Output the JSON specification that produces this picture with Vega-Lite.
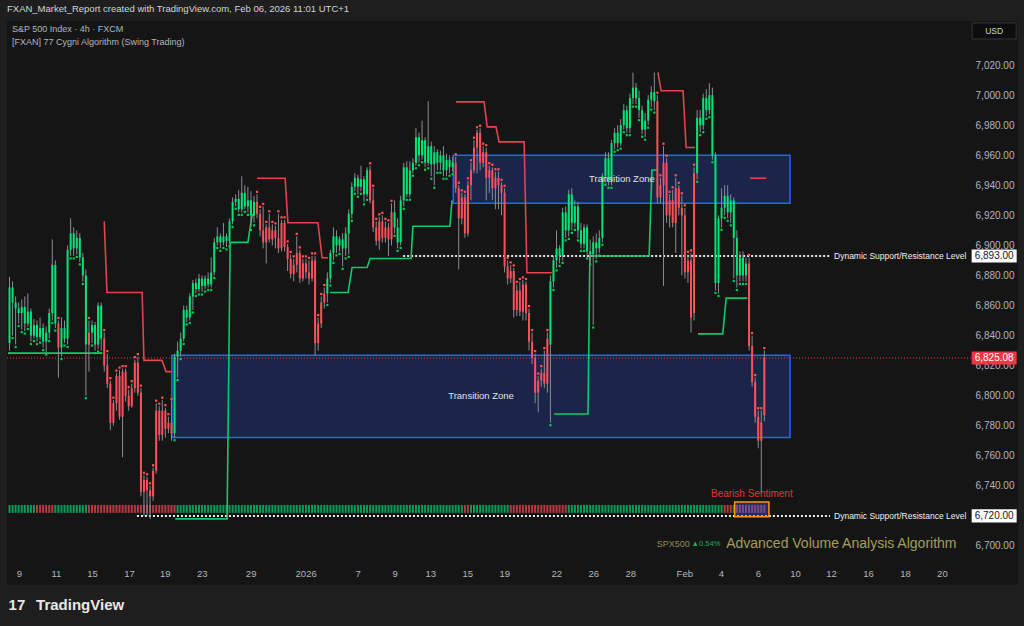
{
"$schema": "https://vega.github.io/schema/vega-lite/v6.json",
"width": 1011, "height": 564,
"autosize": {"type": "none"},
"padding": {"left": 7, "top": 21, "right": 6, "bottom": 41},
"background": "#1e1e1e",
"config": {
  "view": {"fill": "#151515", "stroke": null},
  "font": "Liberation Sans",
  "axis": {"grid": false, "domain": false, "ticks": false, "title": null, "labelColor": "#b2b5be", "labelFont": "Liberation Sans", "labelFontSize": 10, "zindex": 0, "labelOverlap": false, "labelFlush": false, "labelBound": false},
  "axisY": {"format": ",.2f", "offset": -4, "labelAlign": "right", "labelPadding": 0}
},
"title": {"text": "FXAN_Market_Report created with TradingView.com, Feb 06, 2026 11:01 UTC+1", "anchor": "start", "frame": "group", "fontSize": 9.5, "fontWeight": "normal", "color": "#d1d4dc", "offset": 7, "font": "Liberation Sans"},
"datasets": {
  "zones": [{"a": 145.2, "b": 255.4, "lo": 6928, "hi": 6960}, {"a": 53.1, "b": 255.4, "lo": 6772.2, "hi": 6826.9}],
  "levels": [{"k": "last", "p": 6825.08, "a": -0.82, "b": 314.6}, {"k": "dsr", "p": 6893, "a": 128.8, "b": 268.5}, {"k": "dsr", "p": 6720, "a": 41.7, "b": 268.5}],
  "hl": [{"a": 237.3, "b": 248.5, "lo": 6719.5, "hi": 6729.3}],
  "tags": [{"p": 6893, "t": "6,893.00", "k": "w"}, {"p": 6825.08, "t": "6,825.08", "k": "r"}, {"p": 6720, "t": "6,720.00", "k": "w"}],
  "notes": [
    {"k": "zone", "t": "Transition Zone", "i": 200.4, "p": 6944},
    {"k": "zone", "t": "Transition Zone", "i": 154.3, "p": 6800},
    {"k": "dsr", "t": "Dynamic Support/Resistance Level", "i": 269.8, "p": 6893},
    {"k": "dsr", "t": "Dynamic Support/Resistance Level", "i": 269.8, "p": 6720},
    {"k": "bear", "t": "Bearish Sentiment", "i": 242.9, "p": 6734.7},
    {"k": "spx", "t": "SPX500", "i": 211.8, "p": 6701.5},
    {"k": "pct", "t": "▲0.54%", "i": 223.2, "p": 6701.5},
    {"k": "ava", "t": "Advanced Volume Analysis Algorithm", "i": 234.5, "p": 6701.5},
    {"k": "leg", "t": "S&P 500 Index · 4h · FXCM", "i": 0.8, "p": 7044},
    {"k": "leg", "t": "[FXAN] 77 Cygni Algorithm (Swing Trading)", "i": 0.8, "p": 7035.5},
    {"k": "foot", "t": "TradingView", "i": 8.7, "p": 6660.7},
    {"k": "logo", "t": "17", "i": -0.3, "p": 6660.7},
    {"k": "usd", "t": "USD", "i": 322.2, "p": 7042.7}
  ],
  "trail": [
    {"seg": "G1", "k": "g", "i": -0.5, "p": 6828.3}, {"seg": "G1", "k": "g", "i": 30.3, "p": 6828.3},
    {"seg": "R1", "k": "r", "i": 31.0, "p": 6916}, {"seg": "R1", "k": "r", "i": 31.9, "p": 6868.7}, {"seg": "R1", "k": "r", "i": 43.4, "p": 6868.7}, {"seg": "R1", "k": "r", "i": 44.0, "p": 6823.5}, {"seg": "R1", "k": "r", "i": 49.9, "p": 6823.5}, {"seg": "R1", "k": "r", "i": 51.2, "p": 6816}, {"seg": "R1", "k": "r", "i": 53.2, "p": 6816},
    {"seg": "G2", "k": "g", "i": 54.2, "p": 6718}, {"seg": "G2", "k": "g", "i": 71.2, "p": 6718}, {"seg": "G2", "k": "g", "i": 72.2, "p": 6902}, {"seg": "G2", "k": "g", "i": 78.0, "p": 6902}, {"seg": "G2", "k": "g", "i": 79.4, "p": 6920.3}, {"seg": "G2", "k": "g", "i": 80.3, "p": 6920.3},
    {"seg": "R2", "k": "r", "i": 81.0, "p": 6944.7}, {"seg": "R2", "k": "r", "i": 90.2, "p": 6944.7}, {"seg": "R2", "k": "r", "i": 91.1, "p": 6915.1}, {"seg": "R2", "k": "r", "i": 100.9, "p": 6915.1}, {"seg": "R2", "k": "r", "i": 102.3, "p": 6891.8}, {"seg": "R2", "k": "r", "i": 104.2, "p": 6891.8},
    {"seg": "G3", "k": "g", "i": 104.9, "p": 6868.7}, {"seg": "G3", "k": "g", "i": 110.8, "p": 6868.7}, {"seg": "G3", "k": "g", "i": 112.1, "p": 6885.3}, {"seg": "G3", "k": "g", "i": 117.0, "p": 6885.3}, {"seg": "G3", "k": "g", "i": 118.0, "p": 6891.3}, {"seg": "G3", "k": "g", "i": 131.4, "p": 6891.3}, {"seg": "G3", "k": "g", "i": 132.0, "p": 6912.7}, {"seg": "G3", "k": "g", "i": 144.1, "p": 6912.7}, {"seg": "G3", "k": "g", "i": 144.8, "p": 6930},
    {"seg": "R3", "k": "r", "i": 146.1, "p": 6995.5}, {"seg": "R3", "k": "r", "i": 155.3, "p": 6995.5}, {"seg": "R3", "k": "r", "i": 156.3, "p": 6978.9}, {"seg": "R3", "k": "r", "i": 159.2, "p": 6978.9}, {"seg": "R3", "k": "r", "i": 160.2, "p": 6968.9}, {"seg": "R3", "k": "r", "i": 168.4, "p": 6968.9}, {"seg": "R3", "k": "r", "i": 169.3, "p": 6881.8}, {"seg": "R3", "k": "r", "i": 177.5, "p": 6881.8},
    {"seg": "G4", "k": "g", "i": 178.2, "p": 6787.8}, {"seg": "G4", "k": "g", "i": 189.3, "p": 6787.8}, {"seg": "G4", "k": "g", "i": 189.9, "p": 6892.9}, {"seg": "G4", "k": "g", "i": 209.3, "p": 6892.9}, {"seg": "G4", "k": "g", "i": 210.2, "p": 6950.2}, {"seg": "G4", "k": "g", "i": 211.9, "p": 6950.2},
    {"seg": "R4", "k": "r", "i": 212.2, "p": 7015.1}, {"seg": "R4", "k": "r", "i": 213.2, "p": 7002.9}, {"seg": "R4", "k": "r", "i": 220.4, "p": 7002.9}, {"seg": "R4", "k": "r", "i": 221.4, "p": 6965.1}, {"seg": "R4", "k": "r", "i": 224.3, "p": 6965.1},
    {"seg": "G5", "k": "g", "i": 225.3, "p": 6841.1}, {"seg": "G5", "k": "g", "i": 233.4, "p": 6841.1}, {"seg": "G5", "k": "g", "i": 234.5, "p": 6864.9}, {"seg": "G5", "k": "g", "i": 241.4, "p": 6864.9},
    {"seg": "R5", "k": "r", "i": 242.3, "p": 6944.7}, {"seg": "R5", "k": "r", "i": 247.6, "p": 6944.7}
  ],
  "candles": [
{"i":0,"o":6835,"h":6879,"l":6830,"c":6872,"s":"g","v":"g"},
{"i":1,"o":6872,"h":6876,"l":6840,"c":6862,"s":"g","v":"g"},
{"i":2,"o":6862,"h":6866,"l":6834,"c":6858,"s":"g","v":"g"},
{"i":3,"o":6858,"h":6862,"l":6848,"c":6855,"s":"g","v":"g"},
{"i":4,"o":6855,"h":6864,"l":6844,"c":6859,"s":"g","v":"g"},
{"i":5,"o":6859,"h":6866,"l":6843,"c":6848,"s":"g","v":"g"},
{"i":6,"o":6848,"h":6868,"l":6846,"c":6856,"s":"g","v":"g"},
{"i":7,"o":6856,"h":6858,"l":6836,"c":6840,"s":"g","v":"g"},
{"i":8,"o":6840,"h":6851,"l":6838,"c":6847,"s":"g","v":"g"},
{"i":9,"o":6847,"h":6850,"l":6836,"c":6839,"s":"g","v":"r"},
{"i":10,"o":6839,"h":6852,"l":6837,"c":6845,"s":"g","v":"r"},
{"i":11,"o":6845,"h":6848,"l":6832,"c":6836,"s":"g","v":"r"},
{"i":12,"o":6836,"h":6846,"l":6829,"c":6842,"s":"g","v":"r"},
{"i":13,"o":6842,"h":6858,"l":6838,"c":6855,"s":"g","v":"r"},
{"i":14,"o":6855,"h":6904,"l":6850,"c":6887,"s":"g","v":"r"},
{"i":15,"o":6887,"h":6890,"l":6845,"c":6848,"s":"g","v":"g"},
{"i":16,"o":6848,"h":6850,"l":6812,"c":6832,"s":"r","v":"g"},
{"i":17,"o":6832,"h":6852,"l":6826,"c":6845,"s":"g","v":"g"},
{"i":18,"o":6845,"h":6850,"l":6835,"c":6838,"s":"g","v":"g"},
{"i":19,"o":6838,"h":6900,"l":6834,"c":6897,"s":"g","v":"g"},
{"i":20,"o":6897,"h":6918,"l":6893,"c":6908,"s":"g","v":"g"},
{"i":21,"o":6908,"h":6912,"l":6893,"c":6898,"s":"g","v":"g"},
{"i":22,"o":6898,"h":6910,"l":6894,"c":6905,"s":"g","v":"g"},
{"i":23,"o":6905,"h":6908,"l":6889,"c":6892,"s":"g","v":"g"},
{"i":24,"o":6892,"h":6895,"l":6876,"c":6880,"s":"g","v":"g"},
{"i":25,"o":6880,"h":6884,"l":6800,"c":6834,"s":"g","v":"g"},
{"i":26,"o":6834,"h":6850,"l":6816,"c":6842,"s":"r","v":"r"},
{"i":27,"o":6842,"h":6850,"l":6835,"c":6847,"s":"g","v":"r"},
{"i":28,"o":6847,"h":6849,"l":6830,"c":6834,"s":"g","v":"r"},
{"i":29,"o":6834,"h":6862,"l":6831,"c":6860,"s":"g","v":"r"},
{"i":30,"o":6860,"h":6862,"l":6830,"c":6838,"s":"g","v":"r"},
{"i":31,"o":6838,"h":6842,"l":6816,"c":6820,"s":"r","v":"r"},
{"i":32,"o":6820,"h":6828,"l":6805,"c":6808,"s":"r","v":"r"},
{"i":33,"o":6808,"h":6810,"l":6777,"c":6782,"s":"r","v":"r"},
{"i":34,"o":6782,"h":6797,"l":6780,"c":6795,"s":"r","v":"r"},
{"i":35,"o":6795,"h":6815,"l":6790,"c":6813,"s":"r","v":"r"},
{"i":36,"o":6813,"h":6817,"l":6784,"c":6786,"s":"r","v":"r"},
{"i":37,"o":6786,"h":6818,"l":6759,"c":6816,"s":"r","v":"r"},
{"i":38,"o":6816,"h":6818,"l":6796,"c":6800,"s":"r","v":"r"},
{"i":39,"o":6800,"h":6804,"l":6790,"c":6793,"s":"r","v":"r"},
{"i":40,"o":6793,"h":6808,"l":6792,"c":6805,"s":"r","v":"r"},
{"i":41,"o":6805,"h":6824,"l":6802,"c":6822,"s":"r","v":"r"},
{"i":42,"o":6822,"h":6826,"l":6800,"c":6802,"s":"r","v":"r"},
{"i":43,"o":6802,"h":6805,"l":6733,"c":6736,"s":"r","v":"r"},
{"i":44,"o":6736,"h":6747,"l":6720,"c":6744,"s":"r","v":"r"},
{"i":45,"o":6744,"h":6746,"l":6720,"c":6737,"s":"r","v":"r"},
{"i":46,"o":6737,"h":6740,"l":6718,"c":6733,"s":"r","v":"r"},
{"i":47,"o":6733,"h":6752,"l":6730,"c":6750,"s":"r","v":"r"},
{"i":48,"o":6750,"h":6795,"l":6748,"c":6790,"s":"r","v":"r"},
{"i":49,"o":6790,"h":6793,"l":6770,"c":6774,"s":"r","v":"r"},
{"i":50,"o":6774,"h":6797,"l":6770,"c":6790,"s":"r","v":"r"},
{"i":51,"o":6790,"h":6792,"l":6772,"c":6778,"s":"r","v":"r"},
{"i":52,"o":6778,"h":6786,"l":6775,"c":6782,"s":"r","v":"r"},
{"i":53,"o":6782,"h":6796,"l":6770,"c":6775,"s":"r","v":"r"},
{"i":54,"o":6775,"h":6828,"l":6772,"c":6826,"s":"g","v":"r"},
{"i":55,"o":6826,"h":6836,"l":6812,"c":6830,"s":"g","v":"g"},
{"i":56,"o":6830,"h":6842,"l":6826,"c":6838,"s":"g","v":"g"},
{"i":57,"o":6838,"h":6860,"l":6836,"c":6857,"s":"g","v":"g"},
{"i":58,"o":6857,"h":6860,"l":6849,"c":6852,"s":"g","v":"g"},
{"i":59,"o":6852,"h":6868,"l":6850,"c":6866,"s":"g","v":"g"},
{"i":60,"o":6866,"h":6877,"l":6857,"c":6875,"s":"g","v":"g"},
{"i":61,"o":6875,"h":6878,"l":6868,"c":6871,"s":"g","v":"g"},
{"i":62,"o":6871,"h":6881,"l":6869,"c":6878,"s":"g","v":"g"},
{"i":63,"o":6878,"h":6880,"l":6869,"c":6873,"s":"g","v":"g"},
{"i":64,"o":6873,"h":6880,"l":6871,"c":6878,"s":"g","v":"g"},
{"i":65,"o":6878,"h":6882,"l":6872,"c":6874,"s":"g","v":"g"},
{"i":66,"o":6874,"h":6892,"l":6872,"c":6882,"s":"g","v":"g"},
{"i":67,"o":6882,"h":6905,"l":6880,"c":6902,"s":"g","v":"g"},
{"i":68,"o":6902,"h":6912,"l":6900,"c":6906,"s":"g","v":"g"},
{"i":69,"o":6906,"h":6908,"l":6898,"c":6902,"s":"g","v":"g"},
{"i":70,"o":6902,"h":6915,"l":6900,"c":6906,"s":"g","v":"g"},
{"i":71,"o":6906,"h":6908,"l":6899,"c":6903,"s":"g","v":"g"},
{"i":72,"o":6903,"h":6918,"l":6901,"c":6916,"s":"g","v":"g"},
{"i":73,"o":6916,"h":6932,"l":6914,"c":6929,"s":"g","v":"g"},
{"i":74,"o":6929,"h":6934,"l":6926,"c":6931,"s":"g","v":"g"},
{"i":75,"o":6931,"h":6937,"l":6922,"c":6924,"s":"g","v":"g"},
{"i":76,"o":6924,"h":6946,"l":6922,"c":6935,"s":"g","v":"g"},
{"i":77,"o":6935,"h":6940,"l":6924,"c":6926,"s":"g","v":"g"},
{"i":78,"o":6926,"h":6939,"l":6922,"c":6930,"s":"g","v":"g"},
{"i":79,"o":6930,"h":6936,"l":6912,"c":6920,"s":"g","v":"g"},
{"i":80,"o":6920,"h":6933,"l":6915,"c":6929,"s":"g","v":"g"},
{"i":81,"o":6929,"h":6934,"l":6918,"c":6921,"s":"r","v":"g"},
{"i":82,"o":6921,"h":6924,"l":6906,"c":6910,"s":"r","v":"g"},
{"i":83,"o":6910,"h":6926,"l":6898,"c":6902,"s":"r","v":"g"},
{"i":84,"o":6902,"h":6914,"l":6888,"c":6912,"s":"r","v":"g"},
{"i":85,"o":6912,"h":6921,"l":6902,"c":6904,"s":"r","v":"g"},
{"i":86,"o":6904,"h":6914,"l":6900,"c":6910,"s":"r","v":"g"},
{"i":87,"o":6910,"h":6913,"l":6898,"c":6905,"s":"r","v":"g"},
{"i":88,"o":6905,"h":6921,"l":6895,"c":6898,"s":"r","v":"g"},
{"i":89,"o":6898,"h":6917,"l":6896,"c":6915,"s":"r","v":"g"},
{"i":90,"o":6915,"h":6917,"l":6896,"c":6899,"s":"r","v":"g"},
{"i":91,"o":6899,"h":6901,"l":6883,"c":6891,"s":"r","v":"g"},
{"i":92,"o":6891,"h":6894,"l":6878,"c":6881,"s":"r","v":"g"},
{"i":93,"o":6881,"h":6891,"l":6876,"c":6887,"s":"r","v":"g"},
{"i":94,"o":6887,"h":6906,"l":6882,"c":6895,"s":"r","v":"g"},
{"i":95,"o":6895,"h":6897,"l":6875,"c":6878,"s":"r","v":"g"},
{"i":96,"o":6878,"h":6891,"l":6876,"c":6888,"s":"r","v":"g"},
{"i":97,"o":6888,"h":6891,"l":6878,"c":6882,"s":"r","v":"g"},
{"i":98,"o":6882,"h":6890,"l":6874,"c":6878,"s":"r","v":"g"},
{"i":99,"o":6878,"h":6893,"l":6876,"c":6890,"s":"r","v":"g"},
{"i":100,"o":6890,"h":6893,"l":6827,"c":6835,"s":"r","v":"g"},
{"i":101,"o":6835,"h":6852,"l":6830,"c":6848,"s":"r","v":"g"},
{"i":102,"o":6848,"h":6866,"l":6845,"c":6862,"s":"r","v":"g"},
{"i":103,"o":6862,"h":6872,"l":6858,"c":6868,"s":"r","v":"g"},
{"i":104,"o":6868,"h":6882,"l":6862,"c":6878,"s":"g","v":"g"},
{"i":105,"o":6878,"h":6897,"l":6875,"c":6895,"s":"g","v":"g"},
{"i":106,"o":6895,"h":6912,"l":6890,"c":6906,"s":"g","v":"g"},
{"i":107,"o":6906,"h":6910,"l":6895,"c":6900,"s":"g","v":"g"},
{"i":108,"o":6900,"h":6906,"l":6896,"c":6904,"s":"g","v":"g"},
{"i":109,"o":6904,"h":6908,"l":6886,"c":6898,"s":"g","v":"g"},
{"i":110,"o":6898,"h":6912,"l":6893,"c":6908,"s":"g","v":"g"},
{"i":111,"o":6908,"h":6924,"l":6894,"c":6921,"s":"g","v":"g"},
{"i":112,"o":6921,"h":6942,"l":6918,"c":6939,"s":"g","v":"g"},
{"i":113,"o":6939,"h":6948,"l":6936,"c":6945,"s":"g","v":"g"},
{"i":114,"o":6945,"h":6947,"l":6934,"c":6939,"s":"g","v":"g"},
{"i":115,"o":6939,"h":6953,"l":6936,"c":6944,"s":"g","v":"g"},
{"i":116,"o":6944,"h":6946,"l":6929,"c":6934,"s":"g","v":"g"},
{"i":117,"o":6934,"h":6952,"l":6932,"c":6950,"s":"g","v":"g"},
{"i":118,"o":6950,"h":6953,"l":6928,"c":6930,"s":"r","v":"g"},
{"i":119,"o":6930,"h":6938,"l":6909,"c":6912,"s":"r","v":"g"},
{"i":120,"o":6912,"h":6916,"l":6900,"c":6903,"s":"r","v":"g"},
{"i":121,"o":6903,"h":6919,"l":6897,"c":6916,"s":"r","v":"g"},
{"i":122,"o":6916,"h":6920,"l":6902,"c":6905,"s":"r","v":"g"},
{"i":123,"o":6905,"h":6916,"l":6902,"c":6912,"s":"r","v":"g"},
{"i":124,"o":6912,"h":6915,"l":6893,"c":6904,"s":"r","v":"g"},
{"i":125,"o":6904,"h":6928,"l":6900,"c":6922,"s":"r","v":"g"},
{"i":126,"o":6922,"h":6930,"l":6908,"c":6912,"s":"g","v":"g"},
{"i":127,"o":6912,"h":6918,"l":6898,"c":6902,"s":"g","v":"g"},
{"i":128,"o":6902,"h":6933,"l":6900,"c":6930,"s":"g","v":"g"},
{"i":129,"o":6930,"h":6955,"l":6926,"c":6952,"s":"g","v":"g"},
{"i":130,"o":6952,"h":6956,"l":6932,"c":6934,"s":"g","v":"g"},
{"i":131,"o":6934,"h":6956,"l":6932,"c":6950,"s":"g","v":"g"},
{"i":132,"o":6950,"h":6958,"l":6948,"c":6955,"s":"g","v":"g"},
{"i":133,"o":6955,"h":6978,"l":6953,"c":6972,"s":"g","v":"g"},
{"i":134,"o":6972,"h":6975,"l":6955,"c":6960,"s":"g","v":"g"},
{"i":135,"o":6960,"h":6983,"l":6957,"c":6970,"s":"g","v":"g"},
{"i":136,"o":6970,"h":6972,"l":6952,"c":6955,"s":"g","v":"g"},
{"i":137,"o":6955,"h":6996,"l":6953,"c":6966,"s":"g","v":"g"},
{"i":138,"o":6966,"h":6969,"l":6946,"c":6954,"s":"g","v":"g"},
{"i":139,"o":6954,"h":6966,"l":6940,"c":6962,"s":"g","v":"g"},
{"i":140,"o":6962,"h":6964,"l":6950,"c":6955,"s":"g","v":"g"},
{"i":141,"o":6955,"h":6963,"l":6950,"c":6960,"s":"g","v":"g"},
{"i":142,"o":6960,"h":6966,"l":6946,"c":6950,"s":"g","v":"g"},
{"i":143,"o":6950,"h":6961,"l":6946,"c":6957,"s":"g","v":"g"},
{"i":144,"o":6957,"h":6960,"l":6948,"c":6952,"s":"g","v":"g"},
{"i":145,"o":6952,"h":6959,"l":6949,"c":6955,"s":"g","v":"g"},
{"i":146,"o":6955,"h":6959,"l":6935,"c":6938,"s":"r","v":"g"},
{"i":147,"o":6938,"h":6940,"l":6884,"c":6918,"s":"r","v":"g"},
{"i":148,"o":6918,"h":6935,"l":6914,"c":6932,"s":"r","v":"g"},
{"i":149,"o":6932,"h":6934,"l":6905,"c":6908,"s":"r","v":"r"},
{"i":150,"o":6908,"h":6943,"l":6906,"c":6940,"s":"r","v":"r"},
{"i":151,"o":6940,"h":6955,"l":6930,"c":6950,"s":"r","v":"g"},
{"i":152,"o":6950,"h":6970,"l":6948,"c":6965,"s":"r","v":"g"},
{"i":153,"o":6965,"h":6977,"l":6948,"c":6975,"s":"r","v":"g"},
{"i":154,"o":6975,"h":6978,"l":6950,"c":6955,"s":"r","v":"g"},
{"i":155,"o":6955,"h":6966,"l":6952,"c":6962,"s":"r","v":"g"},
{"i":156,"o":6962,"h":6965,"l":6930,"c":6945,"s":"r","v":"g"},
{"i":157,"o":6945,"h":6953,"l":6935,"c":6950,"s":"r","v":"g"},
{"i":158,"o":6950,"h":6952,"l":6930,"c":6938,"s":"r","v":"g"},
{"i":159,"o":6938,"h":6949,"l":6924,"c":6945,"s":"r","v":"g"},
{"i":160,"o":6945,"h":6949,"l":6924,"c":6940,"s":"r","v":"g"},
{"i":161,"o":6940,"h":6942,"l":6920,"c":6935,"s":"r","v":"g"},
{"i":162,"o":6935,"h":6938,"l":6882,"c":6886,"s":"r","v":"g"},
{"i":163,"o":6886,"h":6890,"l":6874,"c":6878,"s":"r","v":"g"},
{"i":164,"o":6878,"h":6887,"l":6875,"c":6883,"s":"r","v":"r"},
{"i":165,"o":6883,"h":6885,"l":6852,"c":6857,"s":"r","v":"r"},
{"i":166,"o":6857,"h":6874,"l":6853,"c":6870,"s":"r","v":"r"},
{"i":167,"o":6870,"h":6876,"l":6853,"c":6856,"s":"r","v":"r"},
{"i":168,"o":6856,"h":6877,"l":6850,"c":6874,"s":"r","v":"r"},
{"i":169,"o":6874,"h":6876,"l":6850,"c":6855,"s":"r","v":"r"},
{"i":170,"o":6855,"h":6858,"l":6830,"c":6836,"s":"r","v":"r"},
{"i":171,"o":6836,"h":6842,"l":6821,"c":6825,"s":"r","v":"r"},
{"i":172,"o":6825,"h":6828,"l":6795,"c":6802,"s":"r","v":"r"},
{"i":173,"o":6802,"h":6813,"l":6789,"c":6810,"s":"r","v":"r"},
{"i":174,"o":6810,"h":6818,"l":6806,"c":6815,"s":"r","v":"r"},
{"i":175,"o":6815,"h":6830,"l":6805,"c":6808,"s":"r","v":"r"},
{"i":176,"o":6808,"h":6842,"l":6802,"c":6838,"s":"r","v":"r"},
{"i":177,"o":6834,"h":6880,"l":6782,"c":6876,"s":"g","v":"r"},
{"i":178,"o":6876,"h":6893,"l":6872,"c":6890,"s":"g","v":"r"},
{"i":179,"o":6890,"h":6910,"l":6885,"c":6898,"s":"g","v":"r"},
{"i":180,"o":6898,"h":6900,"l":6888,"c":6893,"s":"g","v":"r"},
{"i":181,"o":6893,"h":6925,"l":6890,"c":6922,"s":"g","v":"r"},
{"i":182,"o":6922,"h":6926,"l":6905,"c":6910,"s":"g","v":"r"},
{"i":183,"o":6910,"h":6937,"l":6906,"c":6934,"s":"g","v":"g"},
{"i":184,"o":6934,"h":6938,"l":6910,"c":6915,"s":"g","v":"g"},
{"i":185,"o":6915,"h":6930,"l":6912,"c":6926,"s":"g","v":"g"},
{"i":186,"o":6926,"h":6929,"l":6905,"c":6910,"s":"g","v":"g"},
{"i":187,"o":6910,"h":6915,"l":6898,"c":6901,"s":"g","v":"g"},
{"i":188,"o":6901,"h":6914,"l":6898,"c":6912,"s":"g","v":"g"},
{"i":189,"o":6912,"h":6914,"l":6893,"c":6896,"s":"g","v":"g"},
{"i":190,"o":6896,"h":6904,"l":6889,"c":6894,"s":"g","v":"g"},
{"i":191,"o":6894,"h":6906,"l":6847,"c":6902,"s":"g","v":"g"},
{"i":192,"o":6902,"h":6908,"l":6891,"c":6898,"s":"g","v":"g"},
{"i":193,"o":6898,"h":6910,"l":6895,"c":6905,"s":"g","v":"g"},
{"i":194,"o":6905,"h":6948,"l":6902,"c":6946,"s":"g","v":"g"},
{"i":195,"o":6946,"h":6962,"l":6942,"c":6958,"s":"g","v":"g"},
{"i":196,"o":6958,"h":6962,"l":6940,"c":6943,"s":"g","v":"g"},
{"i":197,"o":6943,"h":6970,"l":6940,"c":6968,"s":"g","v":"g"},
{"i":198,"o":6968,"h":6978,"l":6964,"c":6975,"s":"g","v":"g"},
{"i":199,"o":6975,"h":6980,"l":6965,"c":6968,"s":"g","v":"g"},
{"i":200,"o":6968,"h":6984,"l":6966,"c":6980,"s":"g","v":"g"},
{"i":201,"o":6980,"h":6994,"l":6977,"c":6990,"s":"g","v":"g"},
{"i":202,"o":6990,"h":6993,"l":6975,"c":6978,"s":"g","v":"g"},
{"i":203,"o":6978,"h":7001,"l":6975,"c":6998,"s":"g","v":"g"},
{"i":204,"o":6998,"h":7015,"l":6994,"c":7005,"s":"g","v":"g"},
{"i":205,"o":7005,"h":7008,"l":6994,"c":6998,"s":"g","v":"g"},
{"i":206,"o":6998,"h":7003,"l":6985,"c":6990,"s":"g","v":"g"},
{"i":207,"o":6990,"h":6993,"l":6974,"c":6977,"s":"g","v":"g"},
{"i":208,"o":6977,"h":6988,"l":6972,"c":6983,"s":"g","v":"g"},
{"i":209,"o":6983,"h":7000,"l":6980,"c":6997,"s":"g","v":"g"},
{"i":210,"o":6997,"h":7006,"l":6992,"c":7002,"s":"g","v":"g"},
{"i":211,"o":7002,"h":7015,"l":6990,"c":6996,"s":"g","v":"g"},
{"i":212,"o":6996,"h":7000,"l":6928,"c":6932,"s":"r","v":"g"},
{"i":213,"o":6932,"h":6945,"l":6928,"c":6940,"s":"r","v":"g"},
{"i":214,"o":6940,"h":6966,"l":6873,"c":6955,"s":"r","v":"g"},
{"i":215,"o":6955,"h":6958,"l":6915,"c":6920,"s":"r","v":"g"},
{"i":216,"o":6920,"h":6934,"l":6912,"c":6930,"s":"r","v":"g"},
{"i":217,"o":6930,"h":6937,"l":6912,"c":6915,"s":"r","v":"g"},
{"i":218,"o":6915,"h":6945,"l":6895,"c":6938,"s":"r","v":"g"},
{"i":219,"o":6938,"h":6940,"l":6920,"c":6925,"s":"r","v":"g"},
{"i":220,"o":6925,"h":6933,"l":6880,"c":6920,"s":"r","v":"g"},
{"i":221,"o":6920,"h":6925,"l":6878,"c":6882,"s":"r","v":"g"},
{"i":222,"o":6882,"h":6894,"l":6875,"c":6890,"s":"r","v":"g"},
{"i":223,"o":6890,"h":6895,"l":6842,"c":6852,"s":"r","v":"g"},
{"i":224,"o":6855,"h":6952,"l":6850,"c":6948,"s":"r","v":"g"},
{"i":225,"o":6948,"h":6990,"l":6944,"c":6985,"s":"g","v":"g"},
{"i":226,"o":6985,"h":6990,"l":6975,"c":6980,"s":"g","v":"g"},
{"i":227,"o":6980,"h":7001,"l":6977,"c":6998,"s":"g","v":"g"},
{"i":228,"o":6998,"h":7004,"l":6986,"c":6990,"s":"g","v":"g"},
{"i":229,"o":6990,"h":7008,"l":6987,"c":7000,"s":"g","v":"g"},
{"i":230,"o":7000,"h":7005,"l":6957,"c":6960,"s":"g","v":"g"},
{"i":231,"o":6960,"h":6962,"l":6870,"c":6875,"s":"g","v":"g"},
{"i":232,"o":6875,"h":6920,"l":6868,"c":6918,"s":"g","v":"g"},
{"i":233,"o":6918,"h":6938,"l":6912,"c":6925,"s":"g","v":"g"},
{"i":234,"o":6925,"h":6940,"l":6920,"c":6933,"s":"g","v":"r"},
{"i":235,"o":6933,"h":6940,"l":6918,"c":6922,"s":"g","v":"r"},
{"i":236,"o":6922,"h":6934,"l":6915,"c":6930,"s":"g","v":"r"},
{"i":237,"o":6930,"h":6932,"l":6878,"c":6905,"s":"g","v":"g"},
{"i":238,"o":6905,"h":6910,"l":6872,"c":6880,"s":"g","v":"r"},
{"i":239,"o":6880,"h":6896,"l":6876,"c":6892,"s":"g","v":"r"},
{"i":240,"o":6892,"h":6896,"l":6876,"c":6880,"s":"g","v":"r"},
{"i":241,"o":6880,"h":6892,"l":6876,"c":6888,"s":"g","v":"r"},
{"i":242,"o":6888,"h":6892,"l":6830,"c":6833,"s":"r","v":"r"},
{"i":243,"o":6833,"h":6840,"l":6806,"c":6809,"s":"r","v":"r"},
{"i":244,"o":6809,"h":6812,"l":6782,"c":6786,"s":"r","v":"r"},
{"i":245,"o":6786,"h":6790,"l":6765,"c":6770,"s":"r","v":"r"},
{"i":246,"o":6770,"h":6790,"l":6735,"c":6782,"s":"r","v":"r"},
{"i":247,"o":6787,"h":6830,"l":6783,"c":6825.08,"s":"r","v":"r"}
  ]
},
"layer": [
  {"data": {"name": "zones"}, "mark": {"type": "rect", "fill": "#1b2549", "stroke": "#2962ff", "strokeWidth": 1.5},
   "encoding": {
     "x": {"field": "a", "type": "quantitative", "scale": {"domain": [-0.82, 330], "nice": false, "zero": false},
       "axis": {"values": [3.1,15.2,27,39.1,50.8,62.9,78.9,96.9,113.9,126,137.7,149.8,161.9,178.9,191,203.1,220.8,232.8,244.9,257,268.8,280.9,293,305.1],
         "labelExpr": "['9','11','15','17','19','23','29','2026','7','9','13','15','19','22','26','28','Feb','4','6','10','12','16','18','20'][indexof([3.1,15.2,27,39.1,50.8,62.9,78.9,96.9,113.9,126,137.7,149.8,161.9,178.9,191,203.1,220.8,232.8,244.9,257,268.8,280.9,293,305.1], datum.value)]",
         "offset": -20, "labelPadding": 3, "labelOverlap": false, "labelFlush": false, "labelFontSize": 9.5}},
     "x2": {"field": "b"},
     "y": {"field": "lo", "type": "quantitative", "scale": {"domain": [6674, 7049.33], "nice": false, "zero": false},
       "axis": {"orient": "right", "values": [6700,6720,6740,6760,6780,6800,6820,6840,6860,6880,6900,6920,6940,6960,6980,7000,7020]}},
     "y2": {"field": "hi"}}},
  {"data": {"name": "levels"}, "transform": [{"filter": "datum.k == 'last'"}],
   "mark": {"type": "rule", "color": "#f23645", "strokeWidth": 1, "strokeDash": [1, 2]},
   "encoding": {"x": {"field": "a", "type": "quantitative", "scale": {"domain": [-0.82, 330], "nice": false, "zero": false}}, "x2": {"field": "b"},
     "y": {"field": "p", "type": "quantitative", "scale": {"domain": [6674, 7049.33], "nice": false, "zero": false}, "axis": {"orient": "right", "values": [6700,6720,6740,6760,6780,6800,6820,6840,6860,6880,6900,6920,6940,6960,6980,7000,7020]}}}},
  {"data": {"name": "levels"}, "transform": [{"filter": "datum.k == 'dsr'"}],
   "mark": {"type": "rule", "color": "#e8e8e8", "strokeWidth": 2, "strokeDash": [2, 2]},
   "encoding": {"x": {"field": "a", "type": "quantitative", "scale": {"domain": [-0.82, 330], "nice": false, "zero": false}}, "x2": {"field": "b"},
     "y": {"field": "p", "type": "quantitative", "scale": {"domain": [6674, 7049.33], "nice": false, "zero": false}, "axis": {"orient": "right", "values": [6700,6720,6740,6760,6780,6800,6820,6840,6860,6880,6900,6920,6940,6960,6980,7000,7020]}}}},
  {"data": {"name": "candles"}, "mark": {"type": "rule", "strokeWidth": 2},
   "encoding": {"x": {"field": "i", "type": "quantitative", "scale": {"domain": [-0.82, 330], "nice": false, "zero": false}},
     "y": {"datum": 6722, "type": "quantitative", "scale": {"domain": [6674, 7049.33], "nice": false, "zero": false}, "axis": {"orient": "right", "values": [6700,6720,6740,6760,6780,6800,6820,6840,6860,6880,6900,6920,6940,6960,6980,7000,7020]}},
     "y2": {"datum": 6727.3},
     "color": {"condition": {"test": "datum.v == 'g'", "value": "#0c9c58"}, "value": "#b83a42"}}},
  {"data": {"name": "hl"}, "mark": {"type": "rect", "fill": "#2962ff", "fillOpacity": 0.35, "stroke": "#ff9800", "strokeWidth": 1.5},
   "encoding": {"x": {"field": "a", "type": "quantitative", "scale": {"domain": [-0.82, 330], "nice": false, "zero": false}}, "x2": {"field": "b"},
     "y": {"field": "lo", "type": "quantitative", "scale": {"domain": [6674, 7049.33], "nice": false, "zero": false}, "axis": {"orient": "right", "values": [6700,6720,6740,6760,6780,6800,6820,6840,6860,6880,6900,6920,6940,6960,6980,7000,7020]}}, "y2": {"field": "hi"}}},
  {"data": {"name": "trail"}, "mark": {"type": "line", "strokeWidth": 1.6},
   "encoding": {"x": {"field": "i", "type": "quantitative", "scale": {"domain": [-0.82, 330], "nice": false, "zero": false}},
     "y": {"field": "p", "type": "quantitative", "scale": {"domain": [6674, 7049.33], "nice": false, "zero": false}, "axis": {"orient": "right", "values": [6700,6720,6740,6760,6780,6800,6820,6840,6860,6880,6900,6920,6940,6960,6980,7000,7020]}},
     "detail": {"field": "seg"},
     "color": {"condition": {"test": "datum.k == 'g'", "value": "#14c76a"}, "value": "#e0454d"}}},
  {"data": {"name": "candles"}, "mark": {"type": "rule", "color": "#8a8c94", "strokeWidth": 1},
   "encoding": {"x": {"field": "i", "type": "quantitative", "scale": {"domain": [-0.82, 330], "nice": false, "zero": false}},
     "y": {"field": "l", "type": "quantitative", "scale": {"domain": [6674, 7049.33], "nice": false, "zero": false}, "axis": {"orient": "right", "values": [6700,6720,6740,6760,6780,6800,6820,6840,6860,6880,6900,6920,6940,6960,6980,7000,7020]}}, "y2": {"field": "h"}}},
  {"data": {"name": "candles"}, "mark": {"type": "rule", "strokeWidth": 2},
   "encoding": {"x": {"field": "i", "type": "quantitative", "scale": {"domain": [-0.82, 330], "nice": false, "zero": false}},
     "y": {"field": "o", "type": "quantitative", "scale": {"domain": [6674, 7049.33], "nice": false, "zero": false}, "axis": {"orient": "right", "values": [6700,6720,6740,6760,6780,6800,6820,6840,6860,6880,6900,6920,6940,6960,6980,7000,7020]}}, "y2": {"field": "c"},
     "color": {"condition": {"test": "datum.s == 'g'", "value": "#00e676"}, "value": "#ff4f5a"}}},
  {"data": {"name": "candles"}, "transform": [{"filter": "datum.s == 'r'"}],
   "mark": {"type": "square", "size": 5, "filled": true, "color": "#ff5252", "opacity": 1, "yOffset": -2.5},
   "encoding": {"x": {"field": "i", "type": "quantitative", "scale": {"domain": [-0.82, 330], "nice": false, "zero": false}},
     "y": {"field": "h", "type": "quantitative", "scale": {"domain": [6674, 7049.33], "nice": false, "zero": false}, "axis": {"orient": "right", "values": [6700,6720,6740,6760,6780,6800,6820,6840,6860,6880,6900,6920,6940,6960,6980,7000,7020]}}}},
  {"data": {"name": "candles"}, "transform": [{"filter": "datum.s == 'g'"}],
   "mark": {"type": "square", "size": 5, "filled": true, "color": "#00c853", "opacity": 1, "yOffset": 2.5},
   "encoding": {"x": {"field": "i", "type": "quantitative", "scale": {"domain": [-0.82, 330], "nice": false, "zero": false}},
     "y": {"field": "l", "type": "quantitative", "scale": {"domain": [6674, 7049.33], "nice": false, "zero": false}, "axis": {"orient": "right", "values": [6700,6720,6740,6760,6780,6800,6820,6840,6860,6880,6900,6920,6940,6960,6980,7000,7020]}}}},
  {"data": {"name": "notes"}, "transform": [{"filter": "datum.k == 'zone'"}],
   "mark": {"type": "text", "fontSize": 9.5, "color": "#e0e3eb", "align": "center", "baseline": "middle"},
   "encoding": {"x": {"field": "i", "type": "quantitative", "scale": {"domain": [-0.82, 330], "nice": false, "zero": false}},
     "y": {"field": "p", "type": "quantitative", "scale": {"domain": [6674, 7049.33], "nice": false, "zero": false}, "axis": {"orient": "right", "values": [6700,6720,6740,6760,6780,6800,6820,6840,6860,6880,6900,6920,6940,6960,6980,7000,7020]}}, "text": {"field": "t"}}},
  {"data": {"name": "notes"}, "transform": [{"filter": "datum.k == 'dsr'"}],
   "mark": {"type": "text", "fontSize": 8.5, "color": "#f0f0f0", "align": "left", "baseline": "middle"},
   "encoding": {"x": {"field": "i", "type": "quantitative", "scale": {"domain": [-0.82, 330], "nice": false, "zero": false}},
     "y": {"field": "p", "type": "quantitative", "scale": {"domain": [6674, 7049.33], "nice": false, "zero": false}, "axis": {"orient": "right", "values": [6700,6720,6740,6760,6780,6800,6820,6840,6860,6880,6900,6920,6940,6960,6980,7000,7020]}}, "text": {"field": "t"}}},
  {"data": {"name": "notes"}, "transform": [{"filter": "datum.k == 'bear'"}],
   "mark": {"type": "text", "fontSize": 10, "color": "#e5313f", "align": "center", "baseline": "middle"},
   "encoding": {"x": {"field": "i", "type": "quantitative", "scale": {"domain": [-0.82, 330], "nice": false, "zero": false}},
     "y": {"field": "p", "type": "quantitative", "scale": {"domain": [6674, 7049.33], "nice": false, "zero": false}, "axis": {"orient": "right", "values": [6700,6720,6740,6760,6780,6800,6820,6840,6860,6880,6900,6920,6940,6960,6980,7000,7020]}}, "text": {"field": "t"}}},
  {"data": {"name": "notes"}, "transform": [{"filter": "datum.k == 'spx'"}],
   "mark": {"type": "text", "fontSize": 9, "color": "#8e8a4e", "align": "left", "baseline": "middle"},
   "encoding": {"x": {"field": "i", "type": "quantitative", "scale": {"domain": [-0.82, 330], "nice": false, "zero": false}},
     "y": {"field": "p", "type": "quantitative", "scale": {"domain": [6674, 7049.33], "nice": false, "zero": false}, "axis": {"orient": "right", "values": [6700,6720,6740,6760,6780,6800,6820,6840,6860,6880,6900,6920,6940,6960,6980,7000,7020]}}, "text": {"field": "t"}}},
  {"data": {"name": "notes"}, "transform": [{"filter": "datum.k == 'pct'"}],
   "mark": {"type": "text", "fontSize": 7.5, "color": "#22ab59", "align": "left", "baseline": "middle"},
   "encoding": {"x": {"field": "i", "type": "quantitative", "scale": {"domain": [-0.82, 330], "nice": false, "zero": false}},
     "y": {"field": "p", "type": "quantitative", "scale": {"domain": [6674, 7049.33], "nice": false, "zero": false}, "axis": {"orient": "right", "values": [6700,6720,6740,6760,6780,6800,6820,6840,6860,6880,6900,6920,6940,6960,6980,7000,7020]}}, "text": {"field": "t"}}},
  {"data": {"name": "notes"}, "transform": [{"filter": "datum.k == 'ava'"}],
   "mark": {"type": "text", "fontSize": 14, "color": "#a49e5a", "align": "left", "baseline": "middle"},
   "encoding": {"x": {"field": "i", "type": "quantitative", "scale": {"domain": [-0.82, 330], "nice": false, "zero": false}},
     "y": {"field": "p", "type": "quantitative", "scale": {"domain": [6674, 7049.33], "nice": false, "zero": false}, "axis": {"orient": "right", "values": [6700,6720,6740,6760,6780,6800,6820,6840,6860,6880,6900,6920,6940,6960,6980,7000,7020]}}, "text": {"field": "t"}}},
  {"data": {"name": "notes"}, "transform": [{"filter": "datum.k == 'leg'"}],
   "mark": {"type": "text", "fontSize": 9, "color": "#b2b5be", "align": "left", "baseline": "middle"},
   "encoding": {"x": {"field": "i", "type": "quantitative", "scale": {"domain": [-0.82, 330], "nice": false, "zero": false}},
     "y": {"field": "p", "type": "quantitative", "scale": {"domain": [6674, 7049.33], "nice": false, "zero": false}, "axis": {"orient": "right", "values": [6700,6720,6740,6760,6780,6800,6820,6840,6860,6880,6900,6920,6940,6960,6980,7000,7020]}}, "text": {"field": "t"}}},
  {"data": {"name": "notes"}, "transform": [{"filter": "datum.k == 'foot' || datum.k == 'logo'"}],
   "mark": {"type": "text", "fontSize": 15, "fontWeight": "bold", "color": "#e8e8e8", "align": "left", "baseline": "middle"},
   "encoding": {"x": {"field": "i", "type": "quantitative", "scale": {"domain": [-0.82, 330], "nice": false, "zero": false}},
     "y": {"field": "p", "type": "quantitative", "scale": {"domain": [6674, 7049.33], "nice": false, "zero": false}, "axis": {"orient": "right", "values": [6700,6720,6740,6760,6780,6800,6820,6840,6860,6880,6900,6920,6940,6960,6980,7000,7020]}}, "text": {"field": "t"}}},
  {"data": {"name": "notes"}, "transform": [{"filter": "datum.k == 'usd'"}],
   "mark": {"type": "point", "shape": "M-1,-0.364H1V0.364H-1Z", "size": 1936, "filled": true, "fill": "#0d0d0d", "stroke": "#363636", "strokeWidth": 1, "opacity": 1},
   "encoding": {"x": {"field": "i", "type": "quantitative", "scale": {"domain": [-0.82, 330], "nice": false, "zero": false}},
     "y": {"field": "p", "type": "quantitative", "scale": {"domain": [6674, 7049.33], "nice": false, "zero": false}, "axis": {"orient": "right", "values": [6700,6720,6740,6760,6780,6800,6820,6840,6860,6880,6900,6920,6940,6960,6980,7000,7020]}}}},
  {"data": {"name": "notes"}, "transform": [{"filter": "datum.k == 'usd'"}],
   "mark": {"type": "text", "fontSize": 8.5, "color": "#d1d4dc", "align": "center", "baseline": "middle"},
   "encoding": {"x": {"field": "i", "type": "quantitative", "scale": {"domain": [-0.82, 330], "nice": false, "zero": false}},
     "y": {"field": "p", "type": "quantitative", "scale": {"domain": [6674, 7049.33], "nice": false, "zero": false}, "axis": {"orient": "right", "values": [6700,6720,6740,6760,6780,6800,6820,6840,6860,6880,6900,6920,6940,6960,6980,7000,7020]}}, "text": {"field": "t"}}},
  {"data": {"name": "tags"},
   "mark": {"type": "point", "shape": "M-1,-0.289H1V0.289H-1Z", "size": 2025, "filled": true, "opacity": 1},
   "encoding": {"x": {"datum": 322.2, "type": "quantitative", "scale": {"domain": [-0.82, 330], "nice": false, "zero": false}},
     "y": {"field": "p", "type": "quantitative", "scale": {"domain": [6674, 7049.33], "nice": false, "zero": false}, "axis": {"orient": "right", "values": [6700,6720,6740,6760,6780,6800,6820,6840,6860,6880,6900,6920,6940,6960,6980,7000,7020]}},
     "color": {"condition": {"test": "datum.k == 'r'", "value": "#f23645"}, "value": "#ffffff"}}},
  {"data": {"name": "tags"},
   "mark": {"type": "text", "fontSize": 10, "align": "center", "baseline": "middle"},
   "encoding": {"x": {"datum": 322.2, "type": "quantitative", "scale": {"domain": [-0.82, 330], "nice": false, "zero": false}},
     "y": {"field": "p", "type": "quantitative", "scale": {"domain": [6674, 7049.33], "nice": false, "zero": false}, "axis": {"orient": "right", "values": [6700,6720,6740,6760,6780,6800,6820,6840,6860,6880,6900,6920,6940,6960,6980,7000,7020]}},
     "text": {"field": "t"},
     "color": {"condition": {"test": "datum.k == 'r'", "value": "#ffffff"}, "value": "#131722"}}}
]
}
